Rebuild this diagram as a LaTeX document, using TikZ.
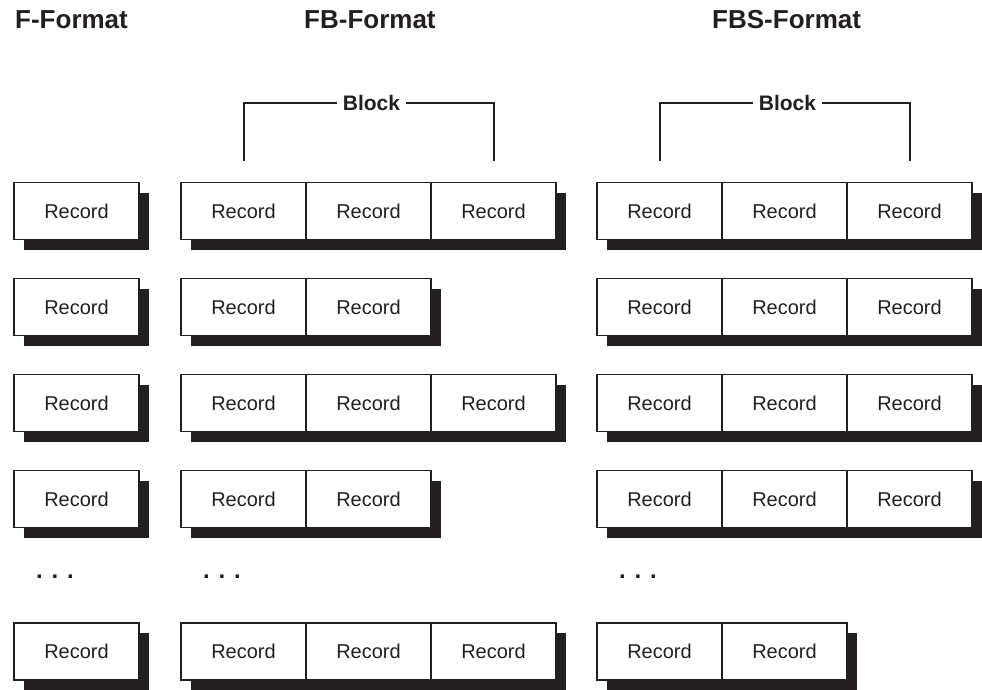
\documentclass[tikz,border=0pt]{standalone}
\usepackage{fontspec}
\setmainfont{Liberation Sans}
\usetikzlibrary{positioning,shadows}
\definecolor{Ink}{HTML}{231F20}

\tikzset{
  record/.style={draw=Ink, line width=1.2pt, fill=white,
    minimum width=125pt, minimum height=57pt, inner sep=0pt, outer sep=0pt,
    font=\fontsize{20}{24}\selectfont, text=Ink,
    drop shadow={shadow xshift=10pt, shadow yshift=-10pt, fill=Ink, opacity=1}},
  heading/.style={anchor=base west, inner sep=0pt,
    font=\fontsize{26}{30}\selectfont\bfseries, text=Ink},
  blocklabel/.style={inner sep=6pt, font=\fontsize{21}{24}\selectfont\bfseries, text=Ink},
  bracket/.style={draw=Ink, line width=1.3pt},
  moredots/.style={anchor=base, inner sep=0pt, font=\fontsize{24}{28}\selectfont\bfseries, text=Ink}
}

\begin{document}
\begin{tikzpicture}[x=1pt, y=-1pt]
    \useasboundingbox (0, 0) rectangle (982, 689);

    % Titulos
    \node[heading] (titleF) at (15, 28) {F-Format};
    \node[heading] (titleFB) at (304, 28) {FB-Format};
    \node[heading] (titleFBS) at (712, 28) {FBS-Format};

    % Bloques
    \coordinate (fbBlockL) at (244, 161);
    \coordinate (fbBlockR) at (494, 161);
    \coordinate (fbsBlockL) at (660, 161);
    \coordinate (fbsBlockR) at (910, 161);
    \node[blocklabel] (blockFB) at (371.5, 103) {Block};
    \node[blocklabel] (blockFBS) at (787.5, 103) {Block};
    \draw[bracket] (fbBlockL) |- (blockFB.west);
    \draw[bracket] (fbBlockR) |- (blockFB.east);
    \draw[bracket] (fbsBlockL) |- (blockFBS.west);
    \draw[bracket] (fbsBlockR) |- (blockFBS.east);

    % Registros: fila / centro y / registros FB / registros FBS
    \foreach \row/\yc/\nfb/\nfbs in {1/211/3/3, 2/307/2/3, 3/403/3/3, 4/499/2/3, 5/651.5/3/2} {
        \node[record] (recF-\row) at (76.5, \yc) {Record};
        \node[record] (recFB-\row-1) at (243.5, \yc) {Record};
        \foreach \i [count=\prev] in {2,...,\nfb}
            \node[record, right=0pt of recFB-\row-\prev] (recFB-\row-\i) {Record};
        \node[record] (recFBS-\row-1) at (659.5, \yc) {Record};
        \foreach \i [count=\prev] in {2,...,\nfbs}
            \node[record, right=0pt of recFBS-\row-\prev] (recFBS-\row-\i) {Record};
    }

    % Puntos suspensivos
    \node[moredots] (dotsF) at (55, 578) {. . .};
    \node[moredots] (dotsFB) at (222, 578) {. . .};
    \node[moredots] (dotsFBS) at (638, 578) {. . .};
\end{tikzpicture}
\end{document}
